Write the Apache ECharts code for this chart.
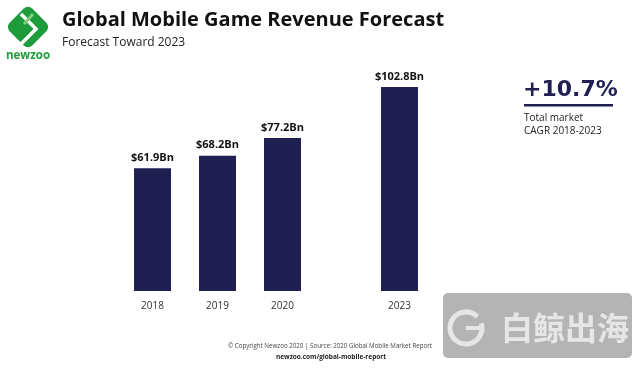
<!DOCTYPE html>
<html><head><meta charset="utf-8">
<script src="https://cdn.jsdelivr.net/npm/echarts@6/dist/echarts.min.js"></script>
<style>html,body{margin:0;padding:0;background:#fff}#c{width:640px;height:368px}</style>
</head><body><div id="c"></div>
<script>
const categories = ['2018', '2019', '2020', '2023'];
const xSlots = [0, 1, 2, 3.8];
const revenue = [61.9, 68.2, 77.2, 102.8];
const valueLabels = ['$61.9Bn', '$68.2Bn', '$77.2Bn', '$102.8Bn'];

const chart = echarts.init(document.getElementById('c'));
const FONT = '"Open Sans", "Noto Sans", sans-serif';
const NAVY = '#1f1f52';
chart.setOption({
  animation: false,
  grid: { left: 87.5, right: 162.5, top: 53, bottom: 77 },
  xAxis: {
    type: 'value', min: -1, max: 5,
    splitLine: { show: false }, axisLine: { show: false }, axisTick: { show: false },
    axisLabel: {
      customValues: xSlots, margin: 10, color: '#333', fontSize: 10, fontFamily: FONT,
      formatter: v => { const i = xSlots.indexOf(v); return i >= 0 ? categories[i] : ''; }
    }
  },
  yAxis: { type: 'value', min: 0, max: 120, show: false, splitLine: { show: false } },
  series: [{
    type: 'bar', barWidth: 37,
    data: xSlots.map((x, i) => [x, revenue[i]]),
    itemStyle: { color: NAVY },
    label: {
      show: true, position: 'top', distance: 5, color: '#111', fontWeight: 'bold',
      fontSize: 11, fontFamily: FONT,
      formatter: p => valueLabels[p.dataIndex]
    }
  }],
  graphic: [
    // logo
    { type: 'rect', x: 28, y: 27, rotation: Math.PI / 4, shape: { x: -16, y: -16, width: 32, height: 32, r: 6 }, style: { fill: '#1e9b3b' } },
    { type: 'polyline', shape: { points: [[21, 14], [36, 29], [21, 44]] }, style: { stroke: '#fff', lineWidth: 3.5, fill: null } },
    { type: 'polyline', shape: { points: [[33, 14], [24, 24]] }, style: { stroke: '#7fd17f', lineWidth: 3, fill: null } },
    { type: 'text', x: 28, y: 56, style: { text: 'newzoo', fill: '#1e9b3b', font: 'bold 11.5px ' + FONT, textAlign: 'center', textVerticalAlign: 'middle' } },
    // titles
    { type: 'text', x: 62, y: 20, style: { text: 'Global Mobile Game Revenue Forecast', fill: '#111', font: 'bold 20px ' + FONT, textVerticalAlign: 'middle' } },
    { type: 'text', x: 62, y: 43, style: { text: 'Forecast Toward 2023', fill: '#222', font: '12px ' + FONT, textVerticalAlign: 'middle' } },
    // CAGR
    { type: 'text', x: 523, y: 90, style: { text: '+10.7%', fill: NAVY, font: 'bold 22px "DejaVu Sans"', textVerticalAlign: 'middle' } },
    { type: 'rect', shape: { x: 524, y: 104, width: 89, height: 2.5 }, style: { fill: NAVY } },
    { type: 'text', x: 524, y: 118, style: { text: 'Total market', fill: '#222', font: '10px ' + FONT, textVerticalAlign: 'middle' } },
    { type: 'text', x: 524, y: 131, style: { text: 'CAGR 2018-2023', fill: '#222', font: '10px ' + FONT, textVerticalAlign: 'middle' } },
    // footer
    { type: 'text', x: 330, y: 346, style: { text: '© Copyright Newzoo 2020 | Source: 2020 Global Mobile Market Report', fill: '#444', font: '6.2px ' + FONT, textAlign: 'center', textVerticalAlign: 'middle' } },
    { type: 'text', x: 331, y: 357, style: { text: 'newzoo.com/global-mobile-report', fill: '#222', font: 'bold 6.5px ' + FONT, textAlign: 'center', textVerticalAlign: 'middle' } },
    // watermark
    { type: 'rect', shape: { x: 443, y: 293, width: 189, height: 65, r: 5 }, style: { fill: '#b4b4b4' } },
    { type: 'arc', shape: { cx: 466, cy: 328, r: 16, startAngle: -0.3, endAngle: Math.PI * 1.75 }, style: { stroke: '#e6e6e6', lineWidth: 5, fill: null } },
    { type: 'rect', shape: { x: 466, y: 326, width: 15, height: 4 }, style: { fill: '#e6e6e6' } },
    { type: 'text', x: 565, y: 328, style: { text: '白鲸出海', fill: '#e6e6e6', font: 'bold 32px "Noto Sans CJK SC"', textAlign: 'center', textVerticalAlign: 'middle' } }
  ]
});
</script></body></html>
